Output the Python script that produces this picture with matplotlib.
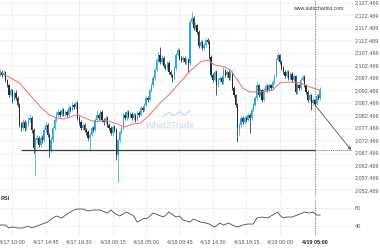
import numpy as np
import matplotlib
matplotlib.use("Agg")
import matplotlib.pyplot as plt

# 15 minute candles, 4/17 08:15 -> 4/19 05:45
closes = [2099.7, 2098.5, 2099.3, 2096.5, 2094.5, 2090.5, 2092.5, 2088.5, 2091.3, 2089.3,
          2086.5, 2078.5, 2077.3, 2079.7, 2077.3, 2078.9, 2080.5, 2081.3, 2076.5, 2069.3,
          2072.5, 2073.3, 2070.5, 2073.3, 2072.5, 2076.5, 2078.5, 2074.5, 2068.5, 2072.5,
          2077.3, 2080.5, 2082.5, 2083.7, 2082.5, 2084.5, 2082.9, 2083.7, 2082.5, 2085.3,
          2084.5, 2086.5, 2085.7, 2087.3, 2081.3, 2079.7, 2077.3, 2078.5, 2076.5, 2075.7,
          2073.3, 2074.5, 2077.3, 2076.5, 2080.5, 2082.5, 2081.3, 2083.7, 2080.5, 2079.7,
          2081.3, 2078.5, 2077.3, 2075.3, 2077.7, 2076.5, 2066.5, 2072.5, 2075.7, 2077.3,
          2082.5, 2081.3, 2083.7, 2082.1, 2082.9, 2081.3, 2082.5, 2080.5, 2083.3, 2082.5,
          2085.3, 2084.5, 2086.5, 2089.3, 2088.5, 2092.5, 2094.5, 2097.3, 2100.5, 2104.5,
          2106.5, 2103.7, 2105.3, 2102.1, 2101.3, 2103.3, 2099.7, 2098.5, 2097.3, 2101.3,
          2106.5, 2108.5, 2105.3, 2104.5, 2105.3, 2103.7, 2104.5, 2103.3, 2119.7, 2121.3,
          2117.3, 2118.5, 2115.7, 2110.1, 2111.7, 2109.3, 2110.5, 2112.5, 2111.7, 2105.7,
          2098.5, 2096.5, 2099.7, 2094.5, 2096.5, 2097.3, 2095.7, 2100.5, 2098.5, 2099.7,
          2097.3, 2099.3, 2093.3, 2090.5, 2086.5, 2077.3, 2078.5, 2081.3, 2079.7, 2081.3,
          2080.5, 2082.5, 2081.3, 2084.5, 2086.5, 2089.3, 2094.5, 2090.5, 2092.5, 2088.5,
          2092.5, 2094.1, 2092.5, 2094.5, 2093.3, 2095.7, 2098.1, 2104.5, 2106.5, 2103.7,
          2101.3, 2099.7, 2098.1, 2099.7, 2097.3, 2098.9, 2096.5, 2098.1, 2091.7, 2094.5,
          2093.3, 2096.5, 2097.7, 2094.5, 2091.7, 2088.5, 2090.5, 2087.3, 2088.5, 2086.9,
          2090.1, 2089.3, 2092.5]
opens = [2098.5] + closes[:-1]
highs = [2100.9, 2100.3, 2100.1, 2099.9, 2097.1, 2095.1, 2093.3, 2093.1, 2092.1, 2092.3,
         2090.1, 2087.1, 2079.5, 2080.9, 2080.5, 2079.9, 2081.7, 2082.5, 2082.1, 2077.3,
         2073.7, 2074.5, 2074.1, 2074.1, 2074.5, 2077.7, 2079.7, 2079.3, 2075.3, 2073.5,
         2078.1, 2081.5, 2083.5, 2084.9, 2084.5, 2085.7, 2085.3, 2084.7, 2084.5, 2086.3,
         2086.1, 2087.5, 2087.3, 2088.1, 2087.9, 2082.1, 2080.3, 2079.3, 2079.1, 2077.3,
         2076.3, 2075.3, 2078.1, 2078.1, 2081.3, 2084.5, 2083.3, 2084.5, 2084.3, 2081.3,
         2082.1, 2081.9, 2079.1, 2077.9, 2078.5, 2078.5, 2077.1, 2073.3, 2076.5, 2078.1,
         2083.3, 2083.5, 2084.5, 2084.5, 2083.7, 2083.5, 2083.3, 2083.1, 2084.1, 2084.1,
         2086.1, 2086.1, 2087.3, 2090.1, 2090.1, 2093.3, 2095.3, 2098.1, 2101.3, 2105.3,
         2107.5, 2109.7, 2106.3, 2105.9, 2102.9, 2104.1, 2103.9, 2100.5, 2099.1, 2102.1,
         2107.3, 2109.3, 2109.1, 2106.1, 2106.1, 2106.1, 2105.3, 2105.3, 2120.5, 2123.7,
         2121.9, 2119.5, 2119.1, 2116.3, 2112.5, 2112.3, 2111.3, 2113.3, 2113.3, 2112.5,
         2106.3, 2099.3, 2100.5, 2100.3, 2097.3, 2098.1, 2098.1, 2101.5, 2101.1, 2100.5,
         2100.3, 2100.1, 2099.9, 2094.1, 2091.1, 2087.1, 2079.3, 2082.1, 2082.1, 2082.1,
         2082.1, 2083.3, 2083.3, 2085.3, 2087.3, 2090.1, 2095.5, 2095.1, 2093.3, 2093.1,
         2093.3, 2094.9, 2094.9, 2095.3, 2095.1, 2096.5, 2098.9, 2105.3, 2107.7, 2107.1,
         2104.3, 2101.9, 2100.3, 2100.5, 2100.3, 2099.7, 2099.5, 2098.9, 2098.7, 2095.3,
         2095.1, 2097.3, 2098.5, 2098.3, 2095.1, 2092.3, 2091.3, 2091.1, 2089.3, 2089.1,
         2090.9, 2090.9, 2093.7]
lows = [2097.9, 2097.7, 2097.9, 2095.7, 2093.7, 2089.5, 2089.9, 2087.3, 2087.9, 2088.5,
        2085.5, 2077.5, 2075.9, 2076.5, 2076.1, 2076.5, 2078.1, 2079.7, 2075.3, 2067.3,
        2058.5, 2071.3, 2069.5, 2069.7, 2071.3, 2071.7, 2075.7, 2073.7, 2065.7, 2067.7,
        2071.7, 2076.5, 2079.7, 2081.7, 2081.5, 2081.9, 2082.1, 2082.1, 2081.7, 2081.9,
        2083.7, 2083.9, 2084.9, 2084.9, 2080.5, 2078.7, 2076.5, 2076.7, 2075.7, 2074.7,
        2072.5, 2068.5, 2073.9, 2075.7, 2075.9, 2079.7, 2080.5, 2080.7, 2079.7, 2078.7,
        2078.9, 2077.7, 2076.3, 2074.5, 2074.7, 2075.7, 2064.5, 2055.7, 2071.7, 2074.9,
        2076.7, 2080.5, 2080.7, 2081.3, 2081.3, 2080.5, 2080.7, 2079.7, 2079.9, 2081.7,
        2081.9, 2083.7, 2083.9, 2085.9, 2087.7, 2087.9, 2091.7, 2093.9, 2096.7, 2099.9,
        2103.7, 2102.9, 2102.9, 2101.3, 2100.5, 2100.7, 2098.9, 2097.7, 2095.7, 2096.7,
        2100.7, 2105.9, 2104.5, 2103.7, 2103.7, 2102.9, 2102.9, 2099.7, 2102.7, 2118.9,
        2116.5, 2116.5, 2114.9, 2109.3, 2109.3, 2108.5, 2108.5, 2109.7, 2110.9, 2104.9,
        2097.7, 2095.7, 2095.9, 2090.5, 2093.7, 2095.7, 2094.9, 2095.1, 2097.7, 2097.7,
        2096.5, 2096.7, 2092.5, 2089.7, 2085.7, 2071.7, 2074.5, 2077.7, 2078.9, 2078.9,
        2079.7, 2079.9, 2075.3, 2080.7, 2083.9, 2085.9, 2088.7, 2089.7, 2089.9, 2087.7,
        2087.9, 2091.9, 2091.7, 2091.9, 2092.5, 2092.7, 2095.1, 2097.5, 2103.9, 2102.9,
        2100.5, 2098.9, 2097.3, 2097.5, 2096.5, 2096.7, 2095.7, 2095.9, 2090.9, 2091.1,
        2092.5, 2092.7, 2095.9, 2093.7, 2090.9, 2087.7, 2087.9, 2084.5, 2086.7, 2086.1,
        2086.3, 2088.5, 2088.7]

# moving average read at sample bars
ma_idx = [0, 6, 11, 17, 23, 28, 32, 36, 40, 44, 47, 51, 54, 60, 65, 71, 75, 80, 85,
          91, 97, 102, 108, 114, 118, 122, 128, 131, 135, 138, 142, 148, 155, 159, 165,
          171, 176, 182]
ma_vals = [2099.7, 2097.3, 2095.3, 2090.5, 2085.7, 2082.5, 2081.3, 2080.9, 2081.7, 2082.7,
           2081.7, 2080.5, 2079.7, 2080.5, 2079.3, 2077.7, 2078.9, 2079.3, 2082.5,
           2087.3, 2091.3, 2095.3, 2100.1, 2103.7, 2104.5, 2102.5, 2101.7, 2100.5, 2096.5,
           2093.3, 2091.7, 2091.7, 2092.5, 2095.3, 2095.7, 2095.3, 2093.7, 2092.5]

rsi_idx = [0, 3, 5, 7, 10, 13, 16, 18, 21, 24, 27, 30, 32, 35, 39, 42, 44, 47, 50, 53,
           57, 61, 63, 65, 68, 72, 76, 78, 81, 84, 87, 90, 93, 96, 100, 102, 104, 108,
           110, 114, 117, 119, 122, 125, 127, 130, 132, 135, 138, 141, 144, 146, 149,
           152, 155, 158, 159, 161, 163, 166, 169, 172, 173, 176, 178, 180, 182]
rsi_vals = [41.1, 41.1, 37.8, 38.9, 37.8, 37.8, 40.0, 37.8, 40.0, 42.2, 44.4, 48.9, 51.1,
            48.9, 54.4, 57.8, 58.9, 58.9, 56.7, 57.8, 57.8, 54.4, 57.8, 54.4, 51.1, 55.6,
            51.1, 44.4, 47.8, 48.9, 54.4, 52.2, 50.0, 55.6, 50.0, 51.1, 46.7, 44.4, 47.8,
            44.4, 43.3, 42.2, 38.9, 43.3, 41.1, 43.3, 41.1, 38.9, 41.1, 42.2, 42.2, 48.9,
            50.0, 48.9, 52.2, 55.6, 52.2, 48.9, 50.0, 50.0, 52.2, 54.4, 55.6, 54.4, 55.6,
            52.2, 52.2]

support = 2068.5
support_start = 12
now_idx = 179
target_idx = 199.6
arrow_from = 2086.6

tick_pos = [7, 26, 45, 64, 83, 102, 121, 140, 159, 179]
tick_labels = ["4/17 10:00", "4/17 14:45", "4/17 19:30", "4/18 00:15", "4/18 05:00",
               "4/18 09:45", "4/18 14:30", "4/18 19:15", "4/19 00:00", "4/19 05:00"]
price_ticks = [2052.469 + 5 * k for k in range(16)]

UP = "#2aa8e0"
DOWN = "#2a2a2a"
GRID = "#ececec"
TXT = "#555555"

plt.rcParams['font.family'] = ['Liberation Sans', 'DejaVu Sans']

fig = plt.figure(figsize=(3.8, 2.5), dpi=100)
W = 353 / 380
ax = fig.add_axes([0, 1 - 197 / 250, W, 197 / 250])
ax2 = fig.add_axes([0, 1 - 236 / 250, W, 36 / 250])

x = np.arange(len(closes))
o = np.array(opens)
c = np.array(closes)
up = c >= o
cols = np.where(up, UP, DOWN)

ax.vlines(x, lows, highs, colors=cols, lw=0.55, zorder=3)
body = np.maximum(np.abs(c - o), 0.3)
ax.bar(x, body, bottom=np.minimum(o, c), width=0.72, color=cols, lw=0, zorder=4)

ax.plot(ma_idx, ma_vals, color="#f26b6b", lw=0.7, zorder=5)

# support line + projection
ax.hlines(support, support_start, now_idx, color="#3a3a3a", lw=0.9, zorder=6)
ax.plot([now_idx, target_idx], [support, support], ls=(0, (1, 1)), color="#5b7b7b", lw=0.7, zorder=6)
ax.annotate("", xy=(target_idx, support), xytext=(now_idx, arrow_from),
            arrowprops=dict(arrowstyle="-|>", color="#555555", lw=0.6, mutation_scale=4,
                            shrinkA=0, shrinkB=0), zorder=7)

for a in (ax, ax2):
    a.axvline(now_idx, ls=(0, (1, 1)), color="#8a9a9a", lw=0.9, zorder=2)
    a.set_xlim(-0.06, 200.7)
    a.set_xticks(tick_pos)
    a.grid(color=GRID, lw=0.5)
    a.set_axisbelow(True)
    for s in a.spines.values():
        s.set_visible(False)
    a.yaxis.tick_right()
    a.tick_params(length=0, labelsize=4, labelcolor=TXT, pad=1.5)

ax.set_ylim(2049.7, 2128.5)
ax.set_yticks(price_ticks)
ax.set_yticklabels([f"{v:,.3f}" for v in price_ticks])
ax.tick_params(axis="x", labelbottom=False)

ax2.plot(rsi_idx, rsi_vals, color="#4a4a4a", lw=0.6)
ax2.set_ylim(28.9, 68.9)
ax2.set_yticks([40, 60])
ax2.set_xticks(tick_pos)
ax2.set_xticklabels(tick_labels)
ax2.tick_params(axis="x", labelsize=3.9, pad=3.2)
ax2.get_xticklabels()[-1].set_color("#222222")
ax2.get_xticklabels()[-1].set_fontweight("bold")

# watermark
ax.text(97, 2078.3, "What2Trade", fontsize=6.2, fontweight="bold", color="#d3e4f1",
        ha="center", va="center", zorder=1)
ax.plot([93, 96, 99, 102, 105, 108], [2082.0, 2083.6, 2082.2, 2083.8, 2082.4, 2084.2],
        color="#cfe2f0", lw=1.2, zorder=1)

fig.text(318 / 380, 1 - 8 / 250, "www.autochartist.com", fontsize=3.7, color="#333333",
         ha="center", va="center")
fig.text(0.002, 1 - 198 / 250, "RSI", fontsize=4, fontweight="bold", color="#333333",
         ha="left", va="center")

fig.savefig("out.png", dpi=100)
